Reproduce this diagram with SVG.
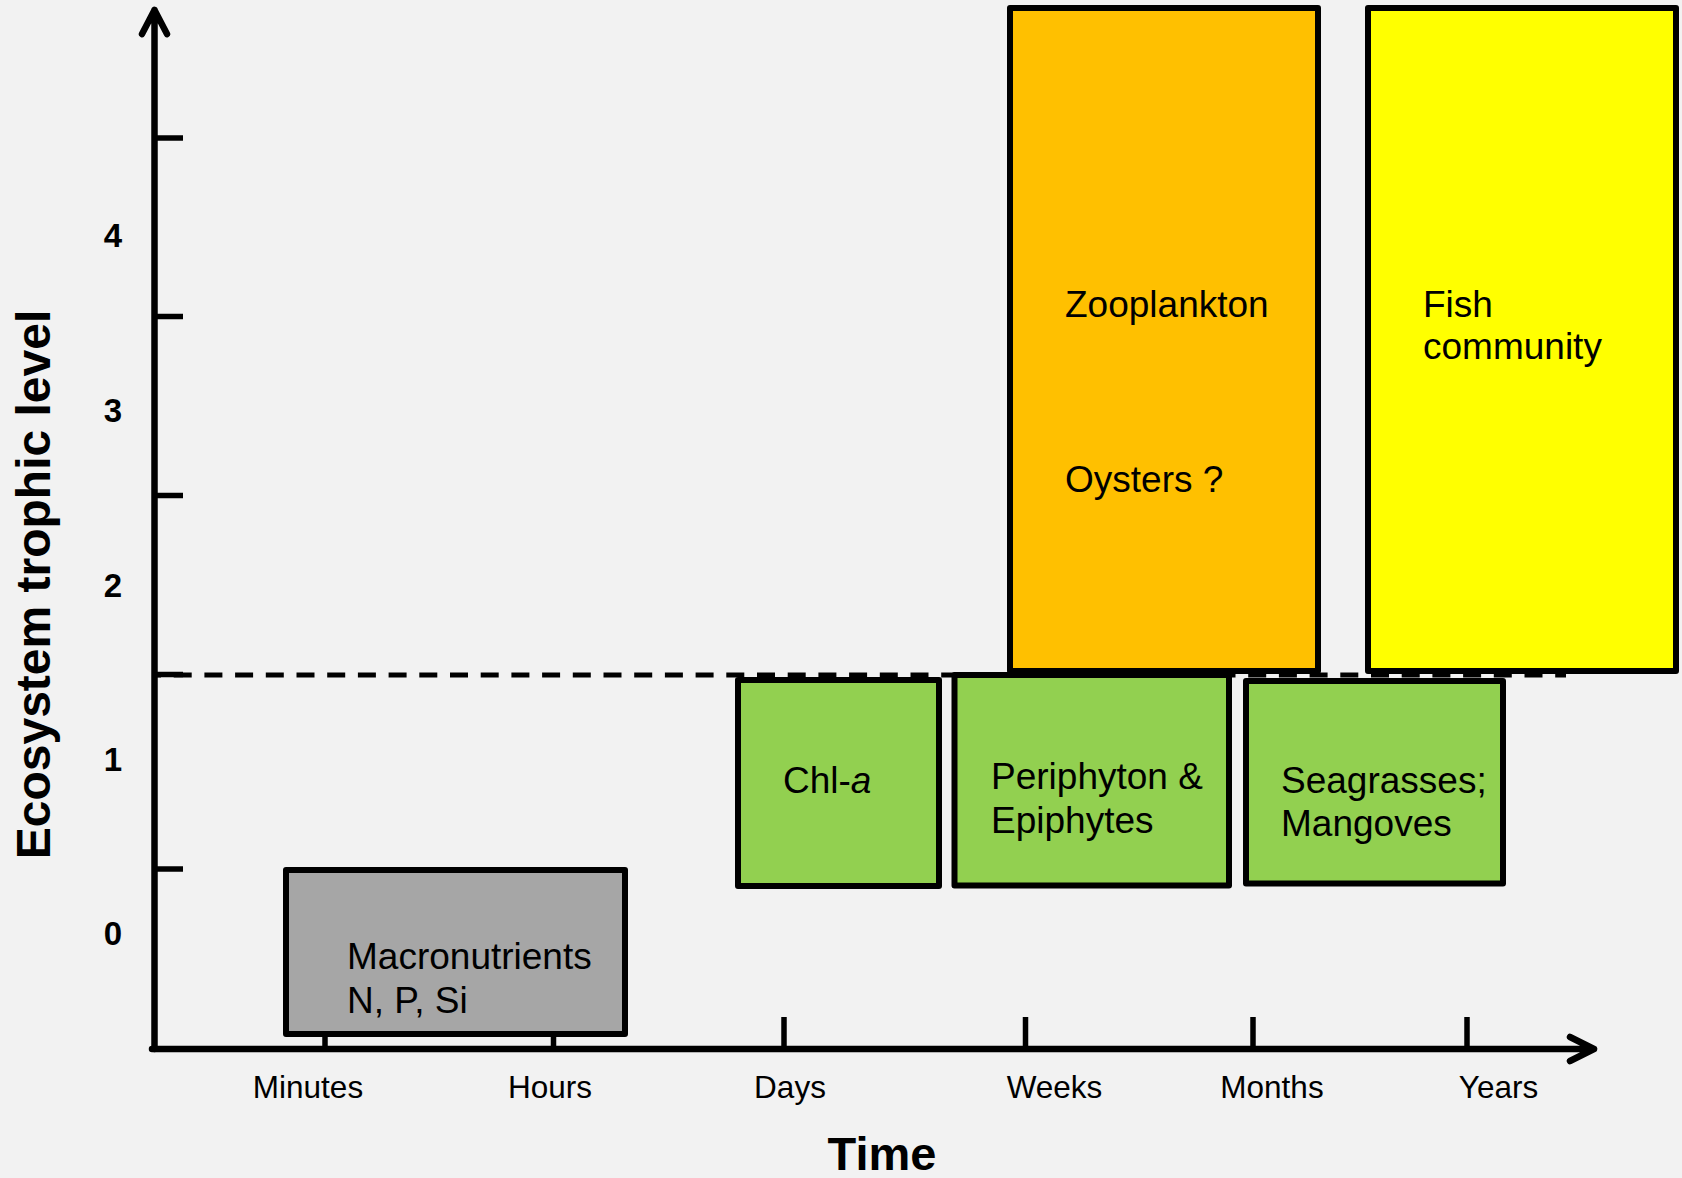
<svg xmlns="http://www.w3.org/2000/svg" width="1682" height="1178" viewBox="0 0 1682 1178">
<style>
text{font-family:"Liberation Sans",Arial,sans-serif;fill:#000}
.lbl{font-size:37px}
.tick{font-size:31.5px;text-anchor:middle}
.num{font-size:33px;font-weight:bold;text-anchor:middle}
.title{font-size:47px;font-weight:bold;text-anchor:middle}
.box{stroke:#000;stroke-width:6;stroke-linejoin:round}
.ax{stroke:#000;stroke-width:6.5;fill:none;stroke-linecap:round;stroke-linejoin:round}
.tk{stroke:#000;stroke-width:5.5;fill:none}
</style>
<rect width="1682" height="1178" fill="#f2f2f2"/>
<g id="connectors">
<line x1="155" y1="675" x2="1566" y2="675" stroke="#000" stroke-width="5" stroke-dasharray="18 12.7" stroke-dashoffset="12"/>
</g>
<g id="axes">
<line class="tk" x1="155" y1="138" x2="183" y2="138"/>
<line class="tk" x1="155" y1="316.5" x2="183" y2="316.5"/>
<line class="tk" x1="155" y1="495.5" x2="183" y2="495.5"/>
<line class="tk" x1="155" y1="674.5" x2="183" y2="674.5"/>
<line class="tk" x1="155" y1="869" x2="183" y2="869"/>
<line class="tk" x1="325" y1="1049" x2="325" y2="1030"/>
<line class="tk" x1="553.5" y1="1049" x2="553.5" y2="1030"/>
<line class="tk" x1="784" y1="1049" x2="784" y2="1017"/>
<line class="tk" x1="1025.5" y1="1049" x2="1025.5" y2="1017"/>
<line class="tk" x1="1253" y1="1049" x2="1253" y2="1017"/>
<line class="tk" x1="1467" y1="1049" x2="1467" y2="1017"/>
<path class="ax" d="M154.5 1049 V10 M142 34 L154.5 10 L167 34"/>
<path class="ax" d="M152 1049 H1594 M1570 1037 L1594 1049 L1570 1061"/>
</g>
<g id="axis-labels">
<text class="num" x="113" y="247">4</text>
<text class="num" x="113" y="422">3</text>
<text class="num" x="113" y="597">2</text>
<text class="num" x="113" y="771">1</text>
<text class="num" x="113" y="945">0</text>
<text class="title" transform="translate(50 584.5) rotate(-90)" style="font-size:48px">Ecosystem trophic level</text>
<text class="tick" x="308" y="1098">Minutes</text>
<text class="tick" x="550" y="1098">Hours</text>
<text class="tick" x="790" y="1098">Days</text>
<text class="tick" x="1054.5" y="1098">Weeks</text>
<text class="tick" x="1272" y="1098">Months</text>
<text class="tick" x="1498.5" y="1098">Years</text>
<text class="title" x="882" y="1170">Time</text>
</g>
<g id="macronutrients">
<rect class="box" x="286" y="870" width="339" height="164" fill="#a6a6a6"/>
<text class="lbl" x="347" y="969">Macronutrients</text>
<text class="lbl" x="347" y="1013">N, P, Si</text>
</g>
<g id="chla">
<rect class="box" x="738" y="680" width="201" height="206" fill="#92d050"/>
<text class="lbl" x="783" y="793">Chl-<tspan font-style="italic">a</tspan></text>
</g>
<g id="periphyton">
<rect class="box" x="954.5" y="675" width="274.5" height="210.5" fill="#92d050"/>
<text class="lbl" x="991" y="789">Periphyton &amp;</text>
<text class="lbl" x="991" y="833">Epiphytes</text>
</g>
<g id="seagrasses">
<rect class="box" x="1246" y="681" width="257" height="202.5" fill="#92d050"/>
<text class="lbl" x="1281" y="793">Seagrasses;</text>
<text class="lbl" x="1281" y="836">Mangoves</text>
</g>
<g id="zooplankton">
<rect class="box" x="1010" y="8" width="308" height="663" fill="#ffc000"/>
<text class="lbl" x="1065" y="317">Zooplankton</text>
<text class="lbl" x="1065" y="492">Oysters ?</text>
</g>
<g id="fish">
<rect class="box" x="1368" y="8" width="308" height="663" fill="#ffff00"/>
<text class="lbl" x="1423" y="317">Fish</text>
<text class="lbl" x="1423" y="359">community</text>
</g>
</svg>
